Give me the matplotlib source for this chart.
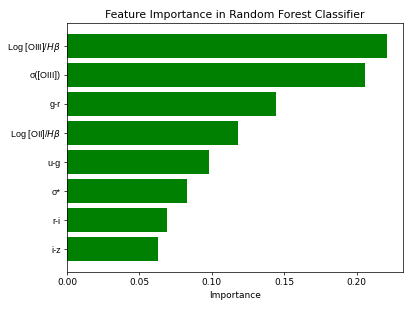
import matplotlib
matplotlib.use("Agg")
import matplotlib.pyplot as plt

features = ["Log [OIII]/$H\\beta$", "σ([OIII])", "g-r", "Log [OII]/$H\\beta$", "u-g", "σ*", "r-i", "i-z"]
importances = [0.221, 0.206, 0.1445, 0.118, 0.098, 0.083, 0.069, 0.063]

fig, ax = plt.subplots(figsize=(415/65, 311/65), dpi=65)
ax.barh(features[::-1], importances[::-1], color="green")
ax.set_xlabel("Importance")
ax.set_title("Feature Importance in Random Forest Classifier")
for lbl in ax.get_yticklabels():
    lbl.set_fontfamily(["Liberation Sans", "DejaVu Sans"])
fig.subplots_adjust(left=67/415, right=403/415, top=1-23/311, bottom=1-272/311)
fig.savefig("out.png", dpi=65)
